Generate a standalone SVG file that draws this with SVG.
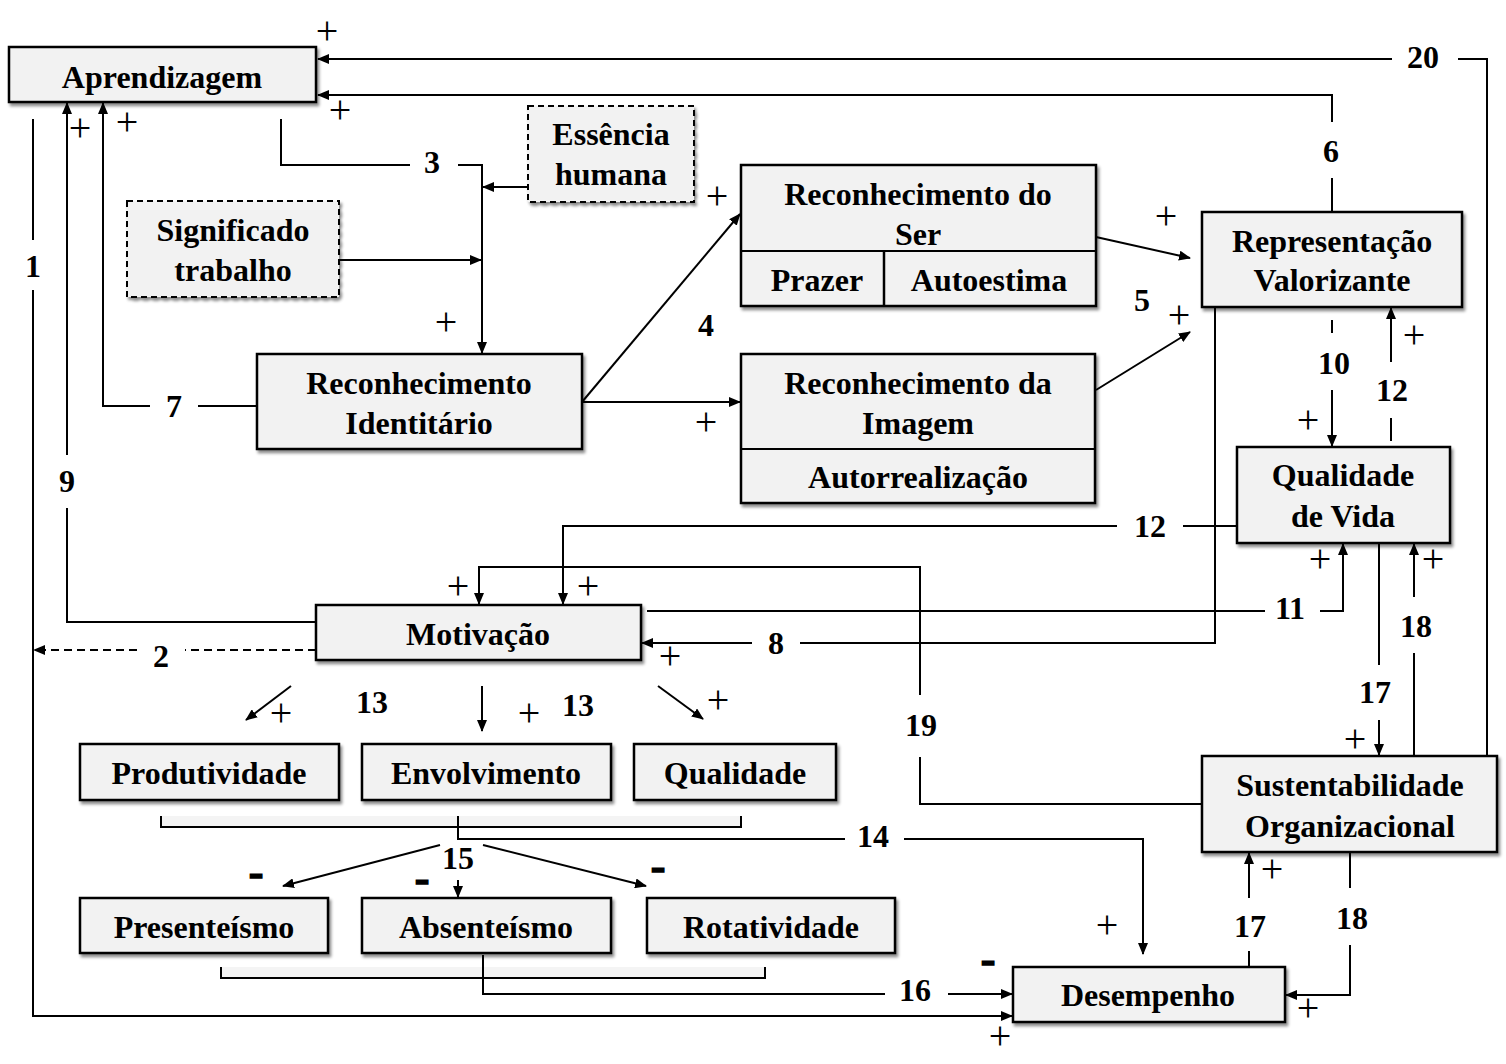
<svg xmlns="http://www.w3.org/2000/svg" width="1506" height="1064" viewBox="0 0 1506 1064">
<style>
.box{fill:#f2f2f2;stroke:#000;stroke-width:2.5;filter:url(#sh)}
.dbox{fill:#f2f2f2;stroke:#000;stroke-width:2;stroke-dasharray:6,4;filter:url(#sh)}
.t{font-family:"Liberation Serif","Times New Roman",serif;font-weight:bold;font-size:32px;text-anchor:middle;fill:#000}
.n{font-family:"Liberation Serif","Times New Roman",serif;font-weight:bold;font-size:32px;text-anchor:middle;fill:#000}
.p{font-family:"Liberation Serif","Times New Roman",serif;font-size:40px;text-anchor:middle;fill:#000}
.m{font-family:"Liberation Serif","Times New Roman",serif;font-weight:bold;font-size:44px;text-anchor:middle;fill:#000;stroke:#000;stroke-width:1.5}
.c{fill:none;stroke:#000;stroke-width:2}
.a{marker-end:url(#ar)}
.d{stroke-dasharray:8,5}
</style>
<defs>
<filter id="sh" x="-5%" y="-10%" width="115%" height="130%">
<feDropShadow dx="2" dy="3" stdDeviation="1.5" flood-color="#000" flood-opacity="0.45"/>
</filter>
<marker id="ar" viewBox="0 0 12 10" refX="11" refY="5" markerWidth="12" markerHeight="10" markerUnits="userSpaceOnUse" orient="auto">
<path d="M0,0 L12,5 L0,10 z" fill="#000"/>
</marker>
</defs>
<rect width="1506" height="1064" fill="#fff"/>

<g id="connectors">
<path class="c" d="M1487,756 V59 H1458"/>
<path class="c a" d="M1392,59 H318"/>
<path class="c" d="M1332,212 V178"/>
<path class="c a" d="M1332,122 V95 H318"/>
<path class="c" d="M281,119 V165 H410"/>
<path class="c a" d="M458,165 H482 V353"/>
<path class="c a" d="M528,187 H483"/>
<path class="c a" d="M339,260 H481"/>
<path class="c a" d="M582,402 L740,214"/>
<path class="c a" d="M582,402 H740"/>
<path class="c a" d="M1096,237 L1190,258"/>
<path class="c a" d="M1096,390 L1190,332"/>
<path class="c" d="M257,406 H198"/>
<path class="c a" d="M150,406 H103 V103"/>
<path class="c" d="M316,622 H67 V508"/>
<path class="c a" d="M67,455 V103"/>
<path class="c" d="M33,119 V240"/>
<path class="c a" d="M33,290 V1016 H1012"/>
<path class="c d" d="M316,650 H185"/>
<path class="c d a" d="M137,650 H34"/>
<path class="c" d="M1215,307 V643 H800"/>
<path class="c a" d="M752,643 H642"/>
<path class="c" d="M647,611 H1265"/>
<path class="c a" d="M1320,611 H1343 V544"/>
<path class="c" d="M1237,526 H1183"/>
<path class="c a" d="M1117,526 H563 V604"/>
<path class="c" d="M1202,804 H920 V757"/>
<path class="c a" d="M920,695 V567 H479 V604"/>
<path class="c" d="M1332,320 V333"/>
<path class="c a" d="M1332,390 V446"/>
<path class="c" d="M1391,441 V418"/>
<path class="c a" d="M1391,362 V308"/>
<path class="c" d="M1379,543 V665"/>
<path class="c a" d="M1379,720 V755"/>
<path class="c" d="M1414,756 V653"/>
<path class="c a" d="M1414,597 V544"/>
<path class="c" d="M1249,967 V951"/>
<path class="c a" d="M1249,898 V853"/>
<path class="c" d="M1350,852 V888"/>
<path class="c a" d="M1350,945 V995 H1286"/>
<rect x="161" y="816" width="580" height="11" fill="#f4f4f4"/>
<path class="c" d="M161,816 V827 H741 V816"/>
<path class="c" d="M458,816 V839 H845"/>
<path class="c a" d="M904,839 H1143 V954"/>
<path class="c a" d="M440,845 L283,886"/>
<path class="c a" d="M458,880 V897"/>
<path class="c a" d="M483,845 L646,886"/>
<rect x="221" y="967" width="544" height="11" fill="#f4f4f4"/>
<path class="c" d="M221,967 V978 H765 V967"/>
<path class="c" d="M483,955 V994 H885"/>
<path class="c a" d="M948,994 H1012"/>
<path class="c a" d="M291,686 L246,720"/>
<path class="c a" d="M482,686 V731"/>
<path class="c a" d="M658,686 L703,719"/>
</g>

<g id="aprendizagem"><rect class="box" x="9" y="47" width="307" height="55"/><text class="t" x="162" y="88">Aprendizagem</text></g>
<g id="essencia"><rect class="dbox" x="528" y="106" width="166" height="96"/><text class="t" x="611" y="145">Essência</text><text class="t" x="611" y="185">humana</text></g>
<g id="significado"><rect class="dbox" x="127" y="201" width="212" height="96"/><text class="t" x="233" y="241">Significado</text><text class="t" x="233" y="281">trabalho</text></g>
<g id="rec-ser"><rect class="box" x="741" y="165" width="355" height="141"/><line x1="741" y1="251" x2="1096" y2="251" stroke="#000" stroke-width="2"/><line x1="884" y1="251" x2="884" y2="306" stroke="#000" stroke-width="2.5"/><text class="t" x="918" y="205">Reconhecimento do</text><text class="t" x="918" y="245">Ser</text><text class="t" x="817" y="291">Prazer</text><text class="t" x="989" y="291">Autoestima</text></g>
<g id="rec-imagem"><rect class="box" x="741" y="354" width="354" height="149"/><line x1="741" y1="449" x2="1095" y2="449" stroke="#000" stroke-width="2"/><text class="t" x="918" y="394">Reconhecimento da</text><text class="t" x="918" y="434">Imagem</text><text class="t" x="918" y="488">Autorrealização</text></g>
<g id="rec-identitario"><rect class="box" x="257" y="354" width="325" height="95"/><text class="t" x="419" y="394">Reconhecimento</text><text class="t" x="419" y="434">Identitário</text></g>
<g id="representacao"><rect class="box" x="1202" y="212" width="260" height="95"/><text class="t" x="1332" y="252">Representação</text><text class="t" x="1332" y="291">Valorizante</text></g>
<g id="qualidade-vida"><rect class="box" x="1237" y="447" width="213" height="96"/><text class="t" x="1343" y="486">Qualidade</text><text class="t" x="1343" y="527">de Vida</text></g>
<g id="motivacao"><rect class="box" x="316" y="605" width="325" height="55"/><text class="t" x="478" y="645">Motivação</text></g>
<g id="produtividade"><rect class="box" x="80" y="744" width="259" height="56"/><text class="t" x="209" y="784">Produtividade</text></g>
<g id="envolvimento"><rect class="box" x="362" y="744" width="249" height="56"/><text class="t" x="486" y="784">Envolvimento</text></g>
<g id="qualidade"><rect class="box" x="634" y="744" width="202" height="56"/><text class="t" x="735" y="784">Qualidade</text></g>
<g id="presenteismo"><rect class="box" x="80" y="898" width="248" height="55"/><text class="t" x="204" y="938">Presenteísmo</text></g>
<g id="absenteismo"><rect class="box" x="362" y="898" width="249" height="55"/><text class="t" x="486" y="938">Absenteísmo</text></g>
<g id="rotatividade"><rect class="box" x="647" y="898" width="248" height="55"/><text class="t" x="771" y="938">Rotatividade</text></g>
<g id="desempenho"><rect class="box" x="1013" y="967" width="272" height="55"/><text class="t" x="1148" y="1006">Desempenho</text></g>
<g id="sustentabilidade"><rect class="box" x="1202" y="756" width="295" height="96"/><text class="t" x="1350" y="796">Sustentabilidade</text><text class="t" x="1350" y="837">Organizacional</text></g>

<g id="labels">
<text class="n" x="1423" y="68">20</text>
<text class="n" x="1331" y="162">6</text>
<text class="n" x="432" y="173">3</text>
<text class="n" x="33" y="277">1</text>
<text class="n" x="174" y="417">7</text>
<text class="n" x="67" y="492">9</text>
<text class="n" x="706" y="336">4</text>
<text class="n" x="1142" y="311">5</text>
<text class="n" x="1334" y="374">10</text>
<text class="n" x="1392" y="401">12</text>
<text class="n" x="1150" y="537">12</text>
<text class="n" x="1290" y="619">11</text>
<text class="n" x="776" y="654">8</text>
<text class="n" x="161" y="667">2</text>
<text class="n" x="372" y="713">13</text>
<text class="n" x="578" y="716">13</text>
<text class="n" x="921" y="736">19</text>
<text class="n" x="1375" y="703">17</text>
<text class="n" x="1416" y="637">18</text>
<text class="n" x="873" y="847">14</text>
<text class="n" x="458" y="869">15</text>
<text class="n" x="1250" y="937">17</text>
<text class="n" x="1352" y="929">18</text>
<text class="n" x="915" y="1001">16</text>
</g>

<g id="signs">
<text class="p" x="327" y="44">+</text>
<text class="p" x="340" y="123">+</text>
<text class="p" x="80" y="141">+</text>
<text class="p" x="127" y="135">+</text>
<text class="p" x="446" y="335">+</text>
<text class="p" x="717" y="209">+</text>
<text class="p" x="706" y="435">+</text>
<text class="p" x="1166" y="229">+</text>
<text class="p" x="1179" y="328">+</text>
<text class="p" x="1308" y="433">+</text>
<text class="p" x="1414" y="348">+</text>
<text class="p" x="1320" y="572">+</text>
<text class="p" x="1433" y="572">+</text>
<text class="p" x="670" y="669">+</text>
<text class="p" x="458" y="599">+</text>
<text class="p" x="588" y="599">+</text>
<text class="p" x="281" y="726">+</text>
<text class="p" x="529" y="726">+</text>
<text class="p" x="718" y="713">+</text>
<text class="p" x="1355" y="752">+</text>
<text class="p" x="1272" y="882">+</text>
<text class="p" x="1107" y="938">+</text>
<text class="p" x="1308" y="1021">+</text>
<text class="p" x="1000" y="1049">+</text>
<text class="m" x="256" y="887">-</text>
<text class="m" x="422" y="893">-</text>
<text class="m" x="658" y="881">-</text>
<text class="m" x="988" y="974">-</text>
</g>
</svg>
